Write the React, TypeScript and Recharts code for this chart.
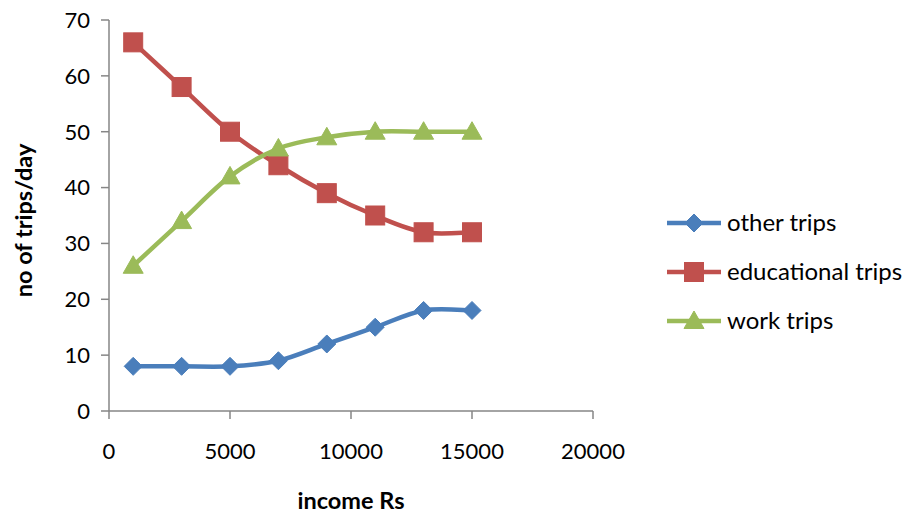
import React from 'react';
import { LineChart, Line, XAxis, YAxis, Legend } from 'recharts';

const incomes = [1000, 3000, 5000, 7000, 9000, 11000, 13000, 15000];
const otherTrips = [8, 8, 8, 9, 12, 15, 18, 18];
const educationalTrips = [66, 58, 50, 44, 39, 35, 32, 32];
const workTrips = [26, 34, 42, 47, 49, 50, 50, 50];
const xTicks = [0, 5000, 10000, 15000, 20000];
const yTicks = [0, 10, 20, 30, 40, 50, 60, 70];

const data = incomes.map((inc, i) => ({
  income: inc,
  other: otherTrips[i],
  educational: educationalTrips[i],
  work: workTrips[i],
}));

const FONT = 'Lato, "Liberation Sans", sans-serif';
const BLUE = '#4A7EBB';
const RED = '#C0504D';
const GREEN = '#9BBB59';
const AXIS = '#868686';
const LEGEND_W = 242;

// Excel-like smooth curve (Catmull-Rom as cubic Bezier)
const excelCurve = (context: any) => {
  let pts: number[][] = [];
  return {
    areaStart() {},
    areaEnd() {},
    lineStart() {
      pts = [];
    },
    point(x: number, y: number) {
      pts.push([+x, +y]);
    },
    lineEnd() {
      if (!pts.length) return;
      context.moveTo(pts[0][0], pts[0][1]);
      for (let i = 0; i < pts.length - 1; i++) {
        const p0 = pts[i - 1] || pts[i];
        const p1 = pts[i];
        const p2 = pts[i + 1];
        const p3 = pts[i + 2] || p2;
        context.bezierCurveTo(
          p1[0] + (p2[0] - p0[0]) / 6,
          p1[1] + (p2[1] - p0[1]) / 6,
          p2[0] - (p3[0] - p1[0]) / 6,
          p2[1] - (p3[1] - p1[1]) / 6,
          p2[0],
          p2[1]
        );
      }
    },
  };
};

const Diamond = ({ cx, cy, color, r = 9 }: any) => (
  <path d={`M${cx},${cy - r}L${cx + r},${cy}L${cx},${cy + r}L${cx - r},${cy}Z`} fill={color} stroke={color} strokeWidth={1} />
);
const Square = ({ cx, cy, color, r = 9.5 }: any) => (
  <rect x={cx - r} y={cy - r} width={2 * r} height={2 * r} fill={color} stroke={color} strokeWidth={1} />
);
const Triangle = ({ cx, cy, color, r = 10 }: any) => (
  <path d={`M${cx},${cy - r}L${cx + r},${cy + r * 0.75}L${cx - r},${cy + r * 0.75}Z`} fill={color} stroke={color} strokeWidth={1} />
);

const makeDot = (Shape: any, color: string) => (props: any) => {
  const { cx, cy, index } = props;
  if (cx == null || cy == null) return <g key={index} />;
  return <Shape key={index} cx={cx} cy={cy} color={color} />;
};

const legendItems = [
  { key: 'other', label: 'other trips', color: BLUE, Shape: Diamond },
  { key: 'educational', label: 'educational trips', color: RED, Shape: Square },
  { key: 'work', label: 'work trips', color: GREEN, Shape: Triangle },
];

const LegendContent = () => (
  <svg width={LEGEND_W} height={150} style={{ overflow: 'visible', display: 'block' }}>
    {legendItems.map((it, i) => {
      const cy = 18 + i * 49;
      return (
        <g key={it.key}>
          <line x1={0} x2={54} y1={cy} y2={cy} stroke={it.color} strokeWidth={4.5} />
          <it.Shape cx={27} cy={cy} color={it.color} />
          <text x={60} y={cy} dy="0.35em" fontFamily={FONT} fontSize={24} fill="#000">
            {it.label}
          </text>
        </g>
      );
    })}
  </svg>
);

export default function App() {
  return (
    <div style={{ position: 'absolute', left: 0, top: 0, width: 909, height: 521, background: '#fff' }}>
      <LineChart width={909} height={521} data={data} margin={{ top: 20, right: 316 - LEGEND_W, bottom: 20, left: 0 }}>
        <XAxis
          dataKey="income"
          type="number"
          domain={[0, 20000]}
          ticks={xTicks}
          interval={0}
          axisLine={{ stroke: AXIS, strokeWidth: 1.5 }}
          tickLine={{ stroke: AXIS, strokeWidth: 1.5 }}
          tickSize={8}
          tickMargin={24}
          height={90}
          tick={{ fill: '#000', fontSize: 22, fontFamily: FONT }}
          label={{
            value: 'income Rs',
            position: 'insideBottom',
            offset: -8,
            fill: '#000',
            fontSize: 23.5,
            fontWeight: 'bold',
            fontFamily: FONT,
          }}
        />
        <YAxis
          type="number"
          domain={[0, 70]}
          ticks={yTicks}
          interval={0}
          width={109}
          axisLine={{ stroke: AXIS, strokeWidth: 1.5 }}
          tickLine={{ stroke: AXIS, strokeWidth: 1.5 }}
          tickSize={8}
          tickMargin={11}
          tick={{ fill: '#000', fontSize: 22, fontFamily: FONT }}
          label={(props: any) => {
            const vb = props.viewBox;
            const cx = vb.x + 23;
            const cy = vb.y + vb.height / 2 + 5;
            return (
              <text
                x={cx}
                y={cy}
                transform={`rotate(-90, ${cx}, ${cy})`}
                textAnchor="middle"
                dominantBaseline="central"
                fontFamily={FONT}
                fontSize={23.5}
                fontWeight="bold"
                fill="#000"
              >
                no of trips/day
              </text>
            );
          }}
        />
        <Legend
          layout="vertical"
          align="right"
          verticalAlign="middle"
          width={LEGEND_W}
          content={<LegendContent />}
          wrapperStyle={{ position: 'absolute', left: 667, top: 205, width: LEGEND_W, height: 150 }}
        />
        <Line
          dataKey="other"
          name="other trips"
          type={excelCurve as any}
          stroke={BLUE}
          strokeWidth={4.5}
          dot={makeDot(Diamond, BLUE)}
          activeDot={false}
          isAnimationActive={false}
        />
        <Line
          dataKey="educational"
          name="educational trips"
          type={excelCurve as any}
          stroke={RED}
          strokeWidth={4.5}
          dot={makeDot(Square, RED)}
          activeDot={false}
          isAnimationActive={false}
        />
        <Line
          dataKey="work"
          name="work trips"
          type={excelCurve as any}
          stroke={GREEN}
          strokeWidth={4.5}
          dot={makeDot(Triangle, GREEN)}
          activeDot={false}
          isAnimationActive={false}
        />
      </LineChart>
    </div>
  );
}
